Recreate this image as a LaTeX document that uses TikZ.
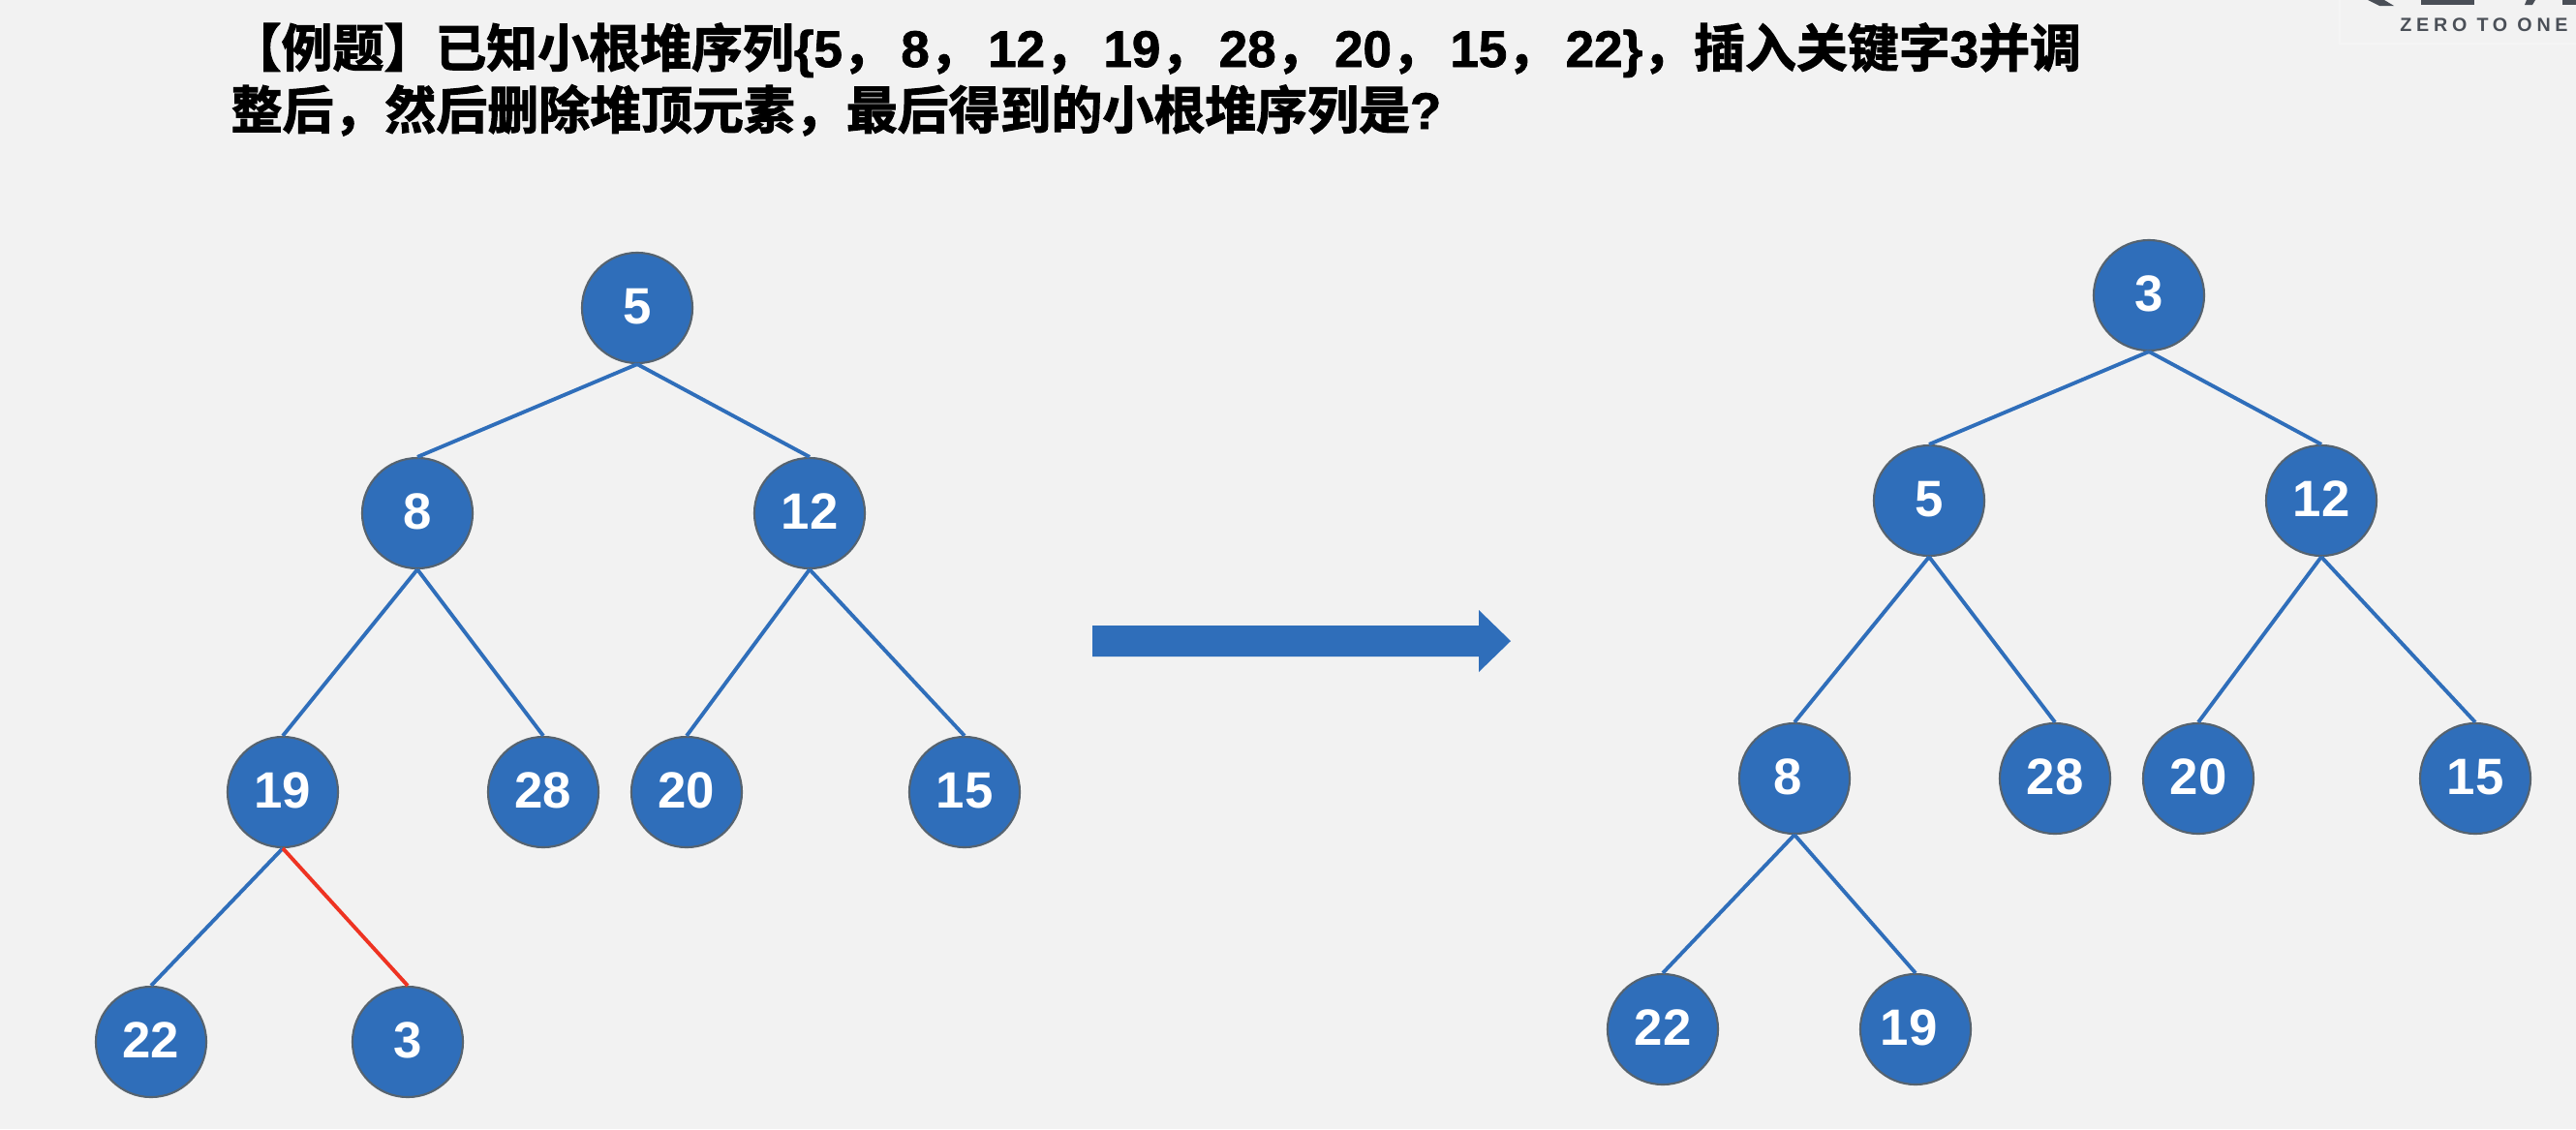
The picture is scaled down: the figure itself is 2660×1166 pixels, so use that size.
\documentclass[tikz,border=0pt]{standalone}
\usepackage{fontspec}
\setmainfont{Liberation Sans}
\newfontfamily\cjk[FakeBold=2]{Noto Sans CJK SC Bold}
\newfontfamily\titlefont[FakeBold=1.5]{Liberation Sans Bold}
\newfontfamily\logofont[LetterSpace=24]{Liberation Sans Bold}
\newcommand{\tcomma}{{\cjk ，}\kern0.075cm}
\definecolor{pagebg}{HTML}{F2F2F2}
\definecolor{heapblue}{HTML}{2F6EBA}
\definecolor{heapedge}{HTML}{56636F}
\definecolor{heapred}{HTML}{EE3322}
\definecolor{logogray}{HTML}{4A4F57}
\definecolor{logobox}{HTML}{F5F5F5}
\tikzset{
  heapnode/.style={circle,draw=heapedge,line width=0.6pt,fill=heapblue,text=white,minimum size=1.14cm,inner sep=0pt,text depth=0.03cm,font=\fontsize{15}{18}\selectfont\bfseries},
  heapline/.style={heapblue,line width=1.1pt},
  titleline/.style={anchor=base west,inner sep=0pt,text=black,font=\fontsize{15.05}{18}\selectfont\titlefont}
}
\begin{document}
\begin{tikzpicture}[x=0.01cm,y=-0.01cm]
\useasboundingbox (0,0) rectangle (2660,1166);
\fill[pagebg] (0,0) rectangle (2660,1166);
% title
\node[titleline] (line1) at (237,69) {{\cjk 【例题】已知小根堆序列}\{5\tcomma 8\tcomma 12\tcomma 19\tcomma 28\tcomma 20\tcomma 15\tcomma 22\}{\cjk ，插入关键字}3{\cjk 并调}};
\node[titleline] (line2) at (238,133) {{\cjk 整后，然后删除堆顶元素，最后得到的小根堆序列是}?};
% logo
\draw[logobox,line width=0.4pt] (2416,0)--(2416,45)--(2660,45);
\fill[logogray] (2445,0)--(2462,0)--(2472,6)--(2457,6)--cycle;
\fill[logogray] (2500,0) rectangle (2555,5);
\fill[logogray] (2609,0)--(2618,0)--(2615,5)--(2607,5)--cycle;
\fill[logogray] (2646,0) rectangle (2660,5);
\node[inner sep=0pt,text=logogray,font=\fontsize{5.6}{7}\selectfont\logofont] (logo) at (2565,26) {ZERO TO ONE};
% left heap
\node[heapnode] (a5) at (658,318) {5};
\node[heapnode] (a8) at (431,530) {8};
\node[heapnode] (a12) at (836,530) {12};
\node[heapnode] (a19) at (292,818) {19};
\node[heapnode] (a28) at (561,818) {28};
\node[heapnode] (a20) at (709,818) {20};
\node[heapnode] (a15) at (996,818) {15};
\node[heapnode] (a22) at (156,1076) {22};
\node[heapnode] (a3) at (421,1076) {3};
\draw[heapline] (a5.south)--(a8.north);
\draw[heapline] (a5.south)--(a12.north);
\draw[heapline] (a8.south)--(a19.north);
\draw[heapline] (a8.south)--(a28.north);
\draw[heapline] (a12.south)--(a20.north);
\draw[heapline] (a12.south)--(a15.north);
\draw[heapline] (a19.south)--(a22.north);
\draw[heapred,line width=1.1pt] (a19.south)--(a3.north);
% arrow
\fill[heapblue] (1128,646)--(1527,646)--(1527,630)--(1560,662)--(1527,694)--(1527,678)--(1128,678)--cycle;
% right heap
\node[heapnode] (b3) at (2219,305) {3};
\node[heapnode] (b5) at (1992,517) {5};
\node[heapnode] (b12) at (2397,517) {12};
\node[heapnode] (b8) at (1853,804) {\kern-0.14cm 8};
\node[heapnode] (b28) at (2122,804) {28};
\node[heapnode] (b20) at (2270,804) {20};
\node[heapnode] (b15) at (2556,804) {15};
\node[heapnode] (b22) at (1717,1063) {22};
\node[heapnode] (b19) at (1978,1063) {\kern-0.14cm 19};
\draw[heapline] (b3.south)--(b5.north);
\draw[heapline] (b3.south)--(b12.north);
\draw[heapline] (b5.south)--(b8.north);
\draw[heapline] (b5.south)--(b28.north);
\draw[heapline] (b12.south)--(b20.north);
\draw[heapline] (b12.south)--(b15.north);
\draw[heapline] (b8.south)--(b22.north);
\draw[heapline] (b8.south)--(b19.north);
\end{tikzpicture}
\end{document}
